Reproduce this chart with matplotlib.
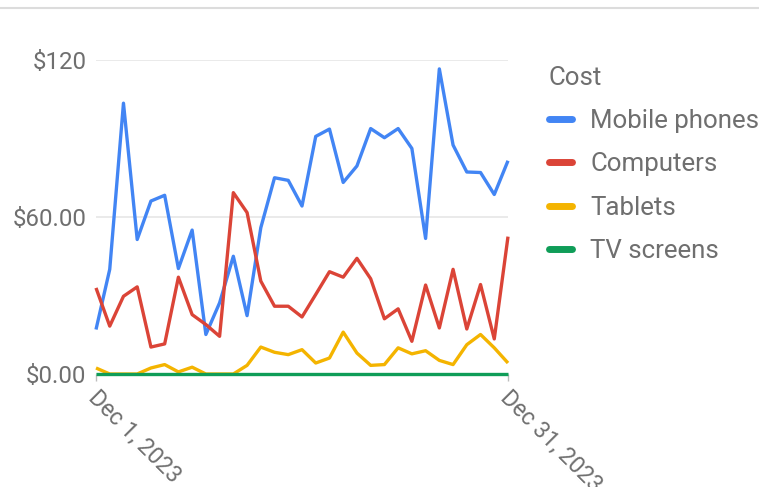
import matplotlib
matplotlib.use("Agg")
import matplotlib.pyplot as plt
import matplotlib.dates as mdates
from matplotlib.transforms import ScaledTranslation
from matplotlib.lines import Line2D
import pandas as pd

plt.rcParams['font.family'] = ['Roboto', 'DejaVu Sans']

dates = pd.date_range("2023-12-01", "2023-12-31", freq="D")
mobile_phones = [17.0, 40.0, 103.5, 51.4, 66.1, 68.3, 40.3, 55.0, 15.1, 27.2,
                 45.0, 22.3, 55.9, 75.0, 74.0, 64.2, 90.8, 93.6, 73.2, 79.5,
                 93.8, 90.3, 93.8, 86.2, 51.8, 116.6, 87.5, 77.2, 77.0, 68.6, 81.5]
computers = [32.9, 18.3, 29.7, 33.3, 10.3, 11.5, 37.0, 22.7, 18.9, 14.4,
             69.3, 61.7, 35.5, 25.9, 25.9, 21.8, 30.4, 39.1, 37.0, 44.2,
             36.4, 21.1, 24.9, 12.5, 34.0, 17.6, 40.0, 17.2, 34.2, 13.4, 52.5]
tablets = [2.3, 0.0, 0.0, 0.0, 2.3, 3.6, 0.8, 2.6, 0.0, 0.0,
           0.0, 3.3, 10.3, 8.3, 7.4, 9.3, 4.2, 6.1, 16.0, 8.0,
           3.3, 3.6, 10.0, 7.7, 8.9, 5.2, 3.6, 11.2, 15.1, 10.0, 4.2]
tv_screens = [0.0] * 31

series_names = ["Mobile phones", "Computers", "Tablets", "TV screens"]
series_values = [mobile_phones, computers, tablets, tv_screens]
colors = ["#4285F4", "#DB4437", "#F4B400", "#0F9D58"]
y_ticks = [0, 60, 120]
y_tick_labels = ["$0.00", "$60.00", "$120"]
x_tick_labels = ["Dec 1, 2023", "Dec 31, 2023"]
legend_title = "Cost"

W, H = 759, 487
fig = plt.figure(figsize=(W / 100, H / 100), dpi=100)
ax = fig.add_axes([96 / W, 1 - 374 / H, (508 - 96) / W, (374 - 60) / H])

for name, vals, c in zip(series_names, series_values, colors):
    ax.plot(dates, vals, color=c, lw=2.4, label=name, clip_on=False,
            solid_joinstyle="round", solid_capstyle="butt")

ax.set_ylim(0, 120)
ax.set_xlim(dates[0], dates[-1])
ax.set_yticks(y_ticks)
ax.set_yticklabels(y_tick_labels)
ax.set_xticks([dates[0], dates[-1]])
ax.set_xticklabels(x_tick_labels)

for s in ax.spines.values():
    s.set_visible(False)
ax.grid(axis="y", color="#e6e6e6", lw=1.2)
ax.set_axisbelow(True)
ax.tick_params(axis="y", length=0, pad=7, labelsize=17.3, labelcolor="#6f6f6f")
ax.tick_params(axis="x", length=5, width=1, color="#bdbdbd", pad=2,
               labelsize=16.7, labelcolor="#6f6f6f")

off = ScaledTranslation(-4 / 100, -11 / 100, fig.dpi_scale_trans)
for lab in ax.get_xticklabels():
    lab.set_rotation(-45)
    lab.set_ha("left")
    lab.set_va("center")
    lab.set_rotation_mode("anchor")
    lab.set_transform(lab.get_transform() + off)

handles = [Line2D([0], [0], color=c, lw=5, solid_capstyle="round") for c in colors]
leg = fig.legend(handles, series_names, title=legend_title, loc="upper left",
                 bbox_to_anchor=(541 / W, 1 - 58 / H), frameon=False,
                 fontsize=18.6, title_fontsize=18.6, alignment="left",
                 handlelength=0.9, handletextpad=0.7, labelspacing=0.75,
                 borderaxespad=0, borderpad=0.3)
leg.get_title().set_color("#6f6f6f")
for t in leg.get_texts():
    t.set_color("#6f6f6f")

fig.add_artist(Line2D([0, 1], [1 - 8 / H, 1 - 8 / H], transform=fig.transFigure,
                      color="#dcdcdc", lw=1.5))

fig.savefig("out.png", dpi=100)
